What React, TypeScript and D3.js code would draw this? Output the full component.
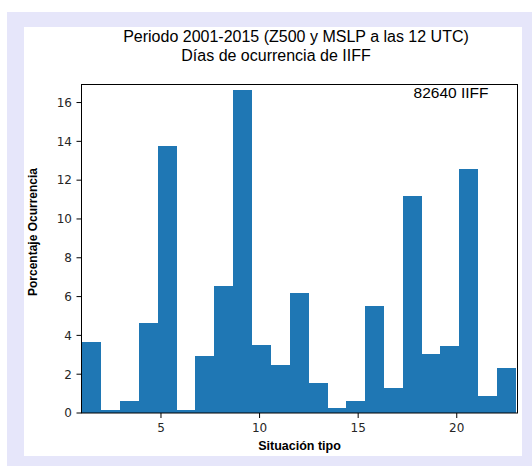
import React from "react";
import * as d3 from "d3";

const titleLines = ["Periodo 2001-2015 (Z500 y MSLP a las 12 UTC)", "Días de ocurrencia de IIFF"];
const stationLabel = "82640 IIFF";
const xLabel = "Situación tipo";
const yLabel = "Porcentaje Ocurrencia";
const binMin = 1;
const binMax = 23;
const binCount = 23;
const percentages = [3.66, 0.14, 0.6, 4.62, 13.75, 0.14, 2.94, 6.57, 16.67, 3.49, 2.49, 6.17, 1.55, 0.26, 0.64, 5.52, 1.3, 11.17, 3.06, 3.44, 12.55, 0.86, 2.32];
const xTicks = [5, 10, 15, 20];
const yTicks = [0, 2, 4, 6, 8, 10, 12, 14, 16];

const W = 532;
const H = 466;
const left = 81.5, right = 517.5, top = 84.5, bottom = 413;

export default function App() {
  const x = d3.scaleLinear().domain([0.97, 23.08]).range([left, right]);
  const y = d3.scaleLinear().domain([0, 16.93]).range([bottom, top]);
  const binW = (binMax - binMin) / binCount;
  const bars = percentages.map((v, i) => ({ x0: binMin + i * binW, x1: binMin + (i + 1) * binW, v }));
  const tickFont = "'DejaVu Sans', sans-serif";
  const txtFont = "'Liberation Sans', Arial, sans-serif";
  return (
    <svg width={W} height={H} style={{ position: "absolute", left: 0, top: 0 }}>
      <rect x={7} y={12} width={W - 7} height={H - 12} fill="#e6e6fa" />
      <rect x={24} y={27} width={498} height={429} fill="#ffffff" />
      <text x={296} y={42} textAnchor="middle" fontFamily={txtFont} fontSize={16} fill="#000">{titleLines[0]}</text>
      <text x={276} y={61} textAnchor="middle" fontFamily={txtFont} fontSize={16} fill="#000">{titleLines[1]}</text>
      <g shapeRendering="crispEdges">
        {bars.map((b, i) => (
          <rect key={i} x={x(b.x0)} y={y(b.v)} width={x(b.x1) - x(b.x0) + 0.3} height={y(0) - y(b.v)} fill="#1f77b4" />
        ))}
      </g>
      <rect x={left} y={top} width={right - left} height={bottom - top} fill="none" stroke="#000" strokeWidth={1} />
      {yTicks.map((t) => (
        <g key={t}>
          <line x1={left - 5} x2={left} y1={y(t)} y2={y(t)} stroke="#000" />
          <text x={left - 9.5} y={y(t)} dy="0.36em" textAnchor="end" fontFamily={tickFont} fontSize={12} fill="#262626">{t}</text>
        </g>
      ))}
      {xTicks.map((t) => (
        <g key={t}>
          <line x1={x(t)} x2={x(t)} y1={bottom} y2={bottom + 5} stroke="#000" />
          <text x={x(t)} y={bottom + 19} textAnchor="middle" fontFamily={tickFont} fontSize={12} fill="#262626">{t}</text>
        </g>
      ))}
      <text x={(left + right) / 2} y={450} textAnchor="middle" fontFamily={txtFont} fontWeight="bold" fontSize={12.5} fill="#000">{xLabel}</text>
      <text transform={`translate(37,232) rotate(-90)`} textAnchor="middle" fontFamily={txtFont} fontWeight="bold" fontSize={12} fill="#000">{yLabel}</text>
      <text x={451} y={98} textAnchor="middle" fontFamily={txtFont} fontSize={15.5} fill="#000">{stationLabel}</text>
    </svg>
  );
}
